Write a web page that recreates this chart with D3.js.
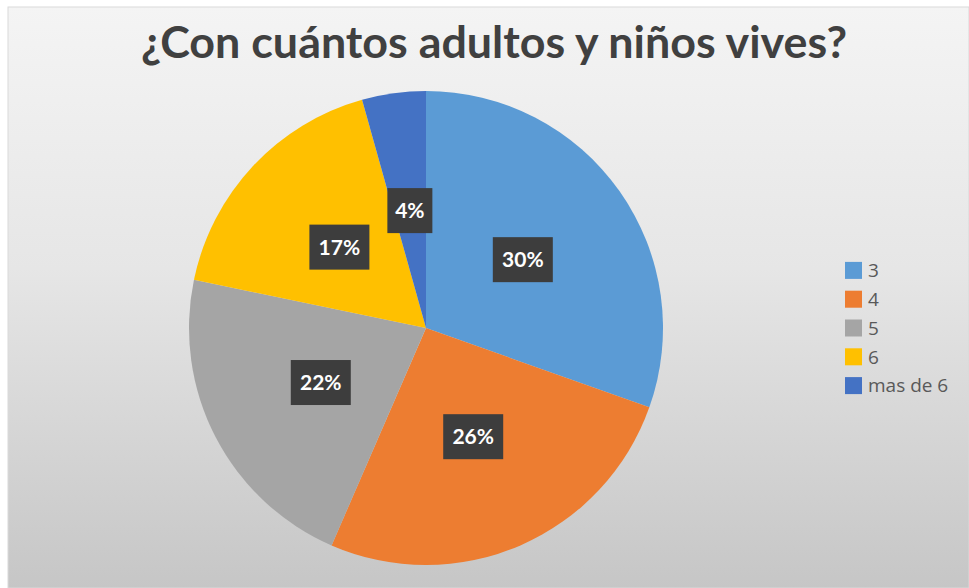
<!DOCTYPE html>
<html>
<head>
<meta charset="utf-8">
<script src="https://d3js.org/d3.v7.min.js"></script>
<style>
  body { margin: 0; background: #fff; }
  svg { display: block; }
</style>
</head>
<body>
<script>
// chart data
var categories = ["3", "4", "5", "6", "mas de 6"];
var counts = [7, 6, 5, 4, 1];
var colors = ["#5b9bd5", "#ed7d31", "#a5a5a5", "#ffc000", "#4472c4"];
var title = "¿Con cuántos adultos y niños vives?";

var w = 969, h = 588;
var cx = 426, cy = 328, r = 237;

var svg = d3.select("body").append("svg")
    .attr("width", w)
    .attr("height", h);

var defs = svg.append("defs");
var grad = defs.append("linearGradient")
    .attr("id", "bg")
    .attr("x1", 0).attr("y1", 0).attr("x2", 0).attr("y2", 1);
grad.append("stop").attr("offset", "0%").attr("stop-color", "#f4f4f4");
grad.append("stop").attr("offset", "45%").attr("stop-color", "#e6e6e6");
grad.append("stop").attr("offset", "100%").attr("stop-color", "#c6c6c6");

// chart area
svg.append("rect")
    .attr("x", 8).attr("y", 7)
    .attr("width", w - 8).attr("height", h - 7)
    .attr("fill", "url(#bg)")
    .attr("stroke", "#d9d9d9");

svg.append("text")
    .attr("x", 494)
    .attr("y", 58)
    .attr("text-anchor", "middle")
    .attr("textLength", 706)
    .attr("lengthAdjust", "spacingAndGlyphs")
    .style("font-family", "Lato, 'Open Sans', sans-serif")
    .style("font-weight", "bold")
    .style("font-size", "43px")
    .style("fill", "#404040")
    .text(title);

var data = categories.map(function (c, i) { return { cat: c, n: counts[i] }; });
var total = d3.sum(counts);

var pie = d3.pie()
    .sort(null)
    .value(function (d) { return d.n; });

var arc = d3.arc().innerRadius(0).outerRadius(r);

var color = d3.scaleOrdinal().domain(categories).range(colors);

var g = svg.append("g").attr("transform", "translate(" + cx + "," + cy + ")");

var arcs = pie(data);

g.selectAll("path.slice")
    .data(arcs)
    .enter()
    .append("path")
    .attr("class", "slice")
    .attr("d", arc)
    .attr("fill", function (d) { return color(d.data.cat); });

// data labels
function pct(d) { return Math.round(d.data.n / total * 100); }

var lab = g.selectAll("g.lab")
    .data(arcs)
    .enter()
    .append("g")
    .attr("class", "lab")
    .attr("transform", function (d) {
        var c = arc.centroid(d);
        return "translate(" + c[0] + "," + c[1] + ")";
    });

lab.append("rect")
    .attr("x", function (d) { return pct(d) < 10 ? -22.5 : -30; })
    .attr("y", -22.5)
    .attr("width", function (d) { return pct(d) < 10 ? 45 : 60; })
    .attr("height", 45)
    .attr("fill", "#3d3d3d");

lab.append("text")
    .attr("text-anchor", "middle")
    .attr("dy", "0.36em")
    .style("font-family", "Lato, 'Open Sans', sans-serif")
    .style("font-weight", "bold")
    .style("font-size", "21px")
    .style("fill", "#fff")
    .text(function (d) { return pct(d) + "%"; });

// legend
var ly = d3.scaleBand().domain(categories).range([256, 400]);

var leg = svg.selectAll("g.leg")
    .data(categories)
    .enter()
    .append("g")
    .attr("class", "leg")
    .attr("transform", function (d) { return "translate(845," + ly(d) + ")"; });

leg.append("rect")
    .attr("width", 17)
    .attr("height", 17)
    .attr("y", (ly.bandwidth() - 17) / 2)
    .attr("fill", function (d) { return color(d); });

leg.append("text")
    .attr("x", 23)
    .attr("y", ly.bandwidth() / 2)
    .attr("dy", "0.36em")
    .style("font-family", "'Open Sans', sans-serif")
    .style("font-size", "19px")
    .style("fill", "#595959")
    .text(function (d) { return d; });
</script>
</body>
</html>
